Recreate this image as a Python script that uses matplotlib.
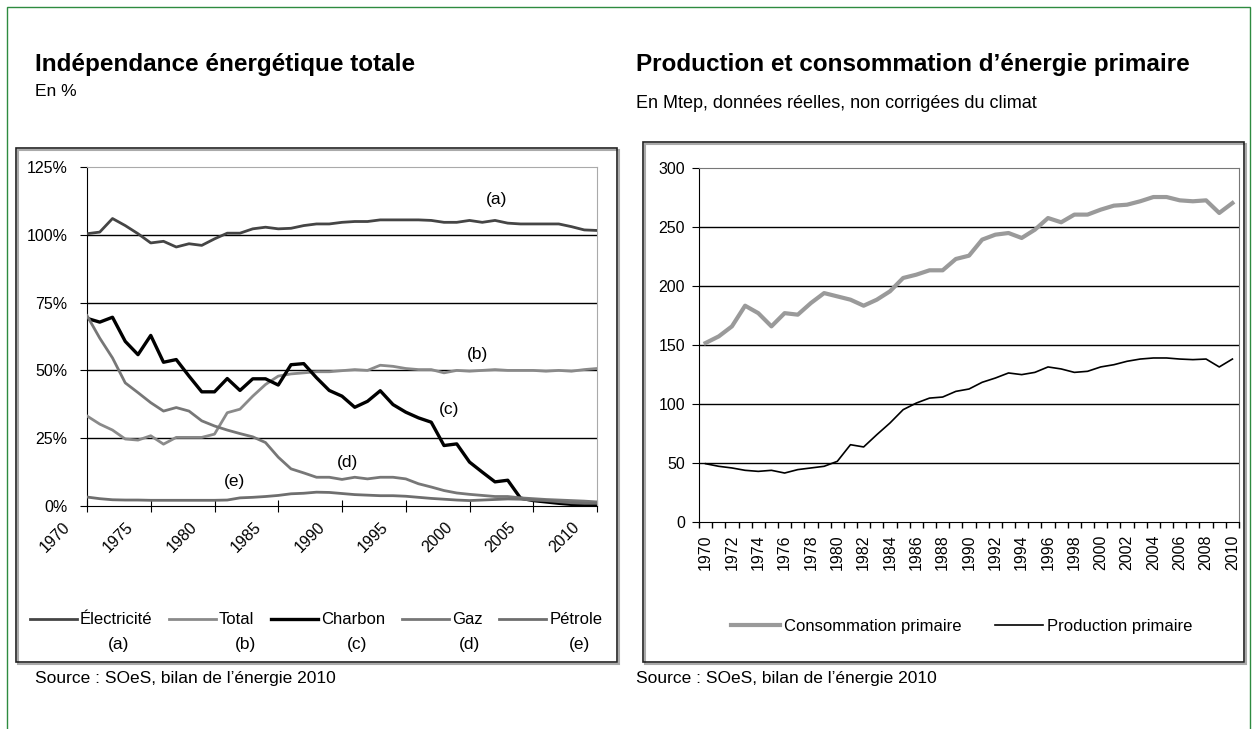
import matplotlib
matplotlib.use('Agg')
import matplotlib.pyplot as plt
from matplotlib.patches import Rectangle
from matplotlib.ticker import FixedLocator, FuncFormatter
from matplotlib.transforms import ScaledTranslation

plt.rcParams['font.family'] = ['Liberation Sans', 'DejaVu Sans']

# ---------------- data ----------------
years = list(range(1970, 2011))

electricite = [100.4, 101, 106, 103.4, 100.4, 97, 97.6, 95.5, 96.7, 96.1, 98.5,
               100.6, 100.6, 102.2, 102.8, 102.2, 102.4, 103.4, 104, 104, 104.6,
               104.9, 104.9, 105.5, 105.5, 105.5, 105.5, 105.3, 104.6, 104.6, 105.3,
               104.6, 105.3, 104.3, 104, 104, 104, 104, 103, 101.8, 101.6]
total = [33.2, 30.2, 28, 24.7, 24.3, 25.9, 22.8, 25.3, 25.3, 25.3, 26.5,
         34.4, 35.7, 40.5, 44.8, 47.9, 48.7, 49.1, 49.5, 49.5, 49.9,
         50.3, 50, 51.9, 51.5, 50.7, 50.3, 50.3, 49.1, 50, 49.7,
         50, 50.3, 50, 50, 50, 49.7, 50, 49.7, 50.3, 50.7]
charbon = [69.2, 67.8, 69.6, 60.7, 55.8, 62.9, 53, 54, 47.9, 42.1, 42.1,
           47, 42.6, 46.9, 46.9, 44.6, 52.1, 52.5, 47.3, 42.6, 40.5,
           36.4, 38.6, 42.5, 37.4, 34.6, 32.5, 30.9, 22.3, 22.9, 16.2,
           12.5, 8.9, 9.5, 2.9, 2, 1.5, 1, 0.6, 0.4, 0.3]
gaz = [70.2, 61.9, 54.6, 45.4, 41.8, 38.1, 35, 36.3, 35, 31.4, 29.5,
       28, 26.7, 25.5, 23.4, 18, 13.7, 12.2, 10.6, 10.6, 9.8,
       10.6, 10, 10.6, 10.6, 10, 8.2, 7, 5.7, 4.8, 4.3,
       3.9, 3.5, 3.5, 3, 2.7, 2.4, 2.2, 2, 1.8, 1.5]
petrole = [3.3, 2.7, 2.3, 2.2, 2.2, 2.1, 2.1, 2.1, 2.1, 2.1, 2.1,
           2.2, 3, 3.2, 3.5, 3.9, 4.5, 4.7, 5.1, 5, 4.6,
           4.2, 4, 3.8, 3.8, 3.6, 3.2, 2.8, 2.5, 2.2, 2,
           2.2, 2.4, 2.6, 2.5, 2.2, 2, 1.6, 1.2, 1, 1]

left_names = ['Électricité', 'Total', 'Charbon', 'Gaz', 'Pétrole']
left_tags = ['(a)', '(b)', '(c)', '(d)', '(e)']
left_yticks = [0, 25, 50, 75, 100, 125]
left_xticks = list(range(1970, 2011, 5))

consommation = [151.7, 157.3, 165.8, 183.3, 177, 165.8, 177, 175.7, 185.6, 194, 191.2,
                188.4, 183.3, 188.4, 195.5, 206.8, 209.6, 213.3, 213.3, 222.9, 225.7,
                239.3, 243.5, 244.9, 240.7, 247.7, 257.6, 254, 260.5, 260.5, 264.7,
                268.1, 268.9, 271.8, 275.4, 275.4, 272.6, 271.8, 272.6, 261.9, 270.3]
production = [49.4, 47.2, 45.8, 43.8, 42.9, 43.8, 41.5, 44.4, 45.8, 47.2, 51.4,
              65.5, 63.6, 74, 83.9, 95.2, 100.8, 105, 105.9, 110.7, 112.7,
              118.4, 122, 126.3, 124.9, 126.8, 131.4, 129.7, 126.8, 127.7, 131.4,
              133.3, 136.2, 138.1, 139, 139, 138.1, 137.6, 138.1, 131.4, 138.1]
right_names = ['Consommation primaire', 'Production primaire']
right_yticks = [0, 50, 100, 150, 200, 250, 300]
right_xlabels = list(range(1970, 2011, 2))

# ---------------- figure ----------------
W, H = 1254, 729
fig = plt.figure(figsize=(W / 100, H / 100), dpi=100)


def fx(x):
    return x / W


def fy(y):
    return 1 - y / H


def box(x0, y0, x1, y1):
    return [fx(x0), fy(y1), fx(x1) - fx(x0), fy(y0) - fy(y1)]


# green outer border
fig.patches.append(Rectangle((fx(7), fy(740)), fx(1250) - fx(7), fy(7) - fy(740),
                             transform=fig.transFigure, fill=False,
                             edgecolor='#2e8b40', lw=1.0))

# panel frames (with light shadow)
for (x0, y0, x1, y1) in [(16, 148, 617, 662), (643, 142, 1244, 662)]:
    fig.patches.append(Rectangle((fx(x0 + 2), fy(y1 + 2)), fx(x1) - fx(x0), fy(y0) - fy(y1),
                                 transform=fig.transFigure, fill=False,
                                 edgecolor='#aaaaaa', lw=1.5))
    fig.patches.append(Rectangle((fx(x0), fy(y1)), fx(x1) - fx(x0), fy(y0) - fy(y1),
                                 transform=fig.transFigure, fill=False,
                                 edgecolor='#222222', lw=1.2))

# titles
fig.text(fx(35), fy(64), 'Indépendance énergétique totale', fontsize=17.5,
         fontweight='bold', va='center', ha='left')
fig.text(fx(35), fy(92), 'En %', fontsize=12.5, va='center', ha='left')
fig.text(fx(636), fy(64), 'Production et consommation d’énergie primaire', fontsize=17.5,
         fontweight='bold', va='center', ha='left')
fig.text(fx(636), fy(103), 'En Mtep, données réelles, non corrigées du climat',
         fontsize=13, va='center', ha='left')
fig.text(fx(35), fy(678), 'Source : SOeS, bilan de l’énergie 2010', fontsize=12.5,
         va='center', ha='left')
fig.text(fx(636), fy(678), 'Source : SOeS, bilan de l’énergie 2010', fontsize=12.5,
         va='center', ha='left')

# ---------------- left chart ----------------
axL = fig.add_axes(box(87, 167, 597, 506))
left_series = [electricite, total, charbon, gaz, petrole]
left_colors = ['#454545', '#8a8a8a', '#000000', '#777777', '#6e6e6e']
left_widths = [2.0, 2.0, 2.4, 2.0, 2.0]
handlesL = []
for vals, c, lw, name in zip(left_series, left_colors, left_widths, left_names):
    ln, = axL.plot(years, vals, color=c, lw=lw, label=name, zorder=3,
                   solid_joinstyle='round')
    handlesL.append(ln)
axL.set_xlim(1970, 2010)
axL.set_ylim(0, 125)
axL.yaxis.set_major_locator(FixedLocator(left_yticks))
axL.yaxis.set_major_formatter(FuncFormatter(lambda v, p: f'{int(v)}%'))
axL.xaxis.set_major_locator(FixedLocator(left_xticks))
for v in left_yticks[1:-1]:
    axL.axhline(v, color='black', lw=1.0, zorder=1)
axL.spines['top'].set_color('#aaaaaa')
axL.spines['right'].set_color('#aaaaaa')
axL.spines['left'].set_color('black')
axL.spines['bottom'].set_color('black')
axL.tick_params(axis='y', direction='out', length=5, labelsize=11.5, pad=9)
axL.tick_params(axis='x', direction='inout', length=9, labelsize=11.5, pad=5)
shift = ScaledTranslation(-25 / 100, 0, fig.dpi_scale_trans)
for lab in axL.get_xticklabels():
    lab.set_rotation(45)
    lab.set_ha('right')
    lab.set_rotation_mode('anchor')
    lab.set_transform(lab.get_transform() + shift)

tag_pos = {'(a)': (2002.1, 113), '(b)': (2000.6, 56), '(c)': (1998.4, 35.5),
           '(d)': (1990.4, 16), '(e)': (1981.6, 9)}
for t in left_tags:
    axL.text(*tag_pos[t], t, fontsize=12.5, ha='center', va='center', zorder=4)

legL = fig.legend(handles=handlesL, loc='center', ncol=5,
                  bbox_to_anchor=(fx(316), fy(620)), frameon=False, fontsize=12,
                  handlelength=2.8, handletextpad=0.2, columnspacing=1.0)
for x, t in zip([119, 246, 357, 470, 579], left_tags):
    fig.text(fx(x), fy(645), t, fontsize=12.5, ha='center', va='center')

# ---------------- right chart ----------------
axR = fig.add_axes(box(699, 168, 1239, 522))
c1, = axR.plot(years, consommation, color='#9a9a9a', lw=3.0, label=right_names[0],
               zorder=3, solid_joinstyle='round')
c2, = axR.plot(years, production, color='black', lw=1.2, label=right_names[1], zorder=3)
axR.set_xlim(1969.5, 2010.5)
axR.set_ylim(0, 300)
axR.yaxis.set_major_locator(FixedLocator(right_yticks))
for v in right_yticks[1:-1]:
    axR.axhline(v, color='black', lw=1.0, zorder=1)
axR.xaxis.set_major_locator(FixedLocator(right_xlabels))
axR.xaxis.set_minor_locator(FixedLocator([y + 0.5 for y in range(1969, 2011)]))
axR.tick_params(axis='x', which='major', length=0, labelsize=11.5, labelrotation=90, pad=9)
axR.tick_params(axis='x', which='minor', length=4, direction='out', width=1)
axR.tick_params(axis='y', direction='out', length=5, labelsize=11.5, pad=5)
axR.spines['top'].set_color('#777777')
axR.spines['right'].set_color('#777777')
axR.spines['left'].set_color('black')
axR.spines['bottom'].set_color('black')

legR = fig.legend(handles=[c1, c2], loc='center', ncol=2,
                  bbox_to_anchor=(fx(962), fy(626)), frameon=False, fontsize=12,
                  handlelength=2.9, handletextpad=0.25, columnspacing=2.0)

fig.savefig('out.png', dpi=100)
